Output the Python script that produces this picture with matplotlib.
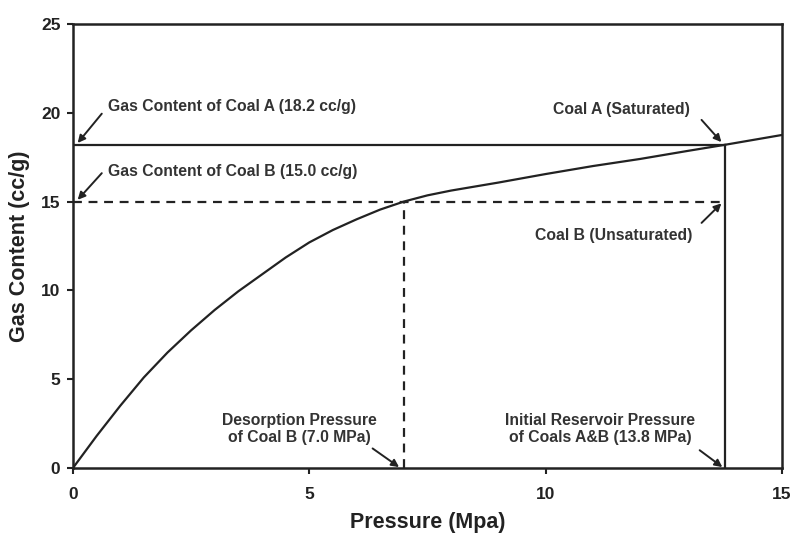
import matplotlib.pyplot as plt

plt.rcParams["font.family"] = ["Liberation Sans", "DejaVu Sans"]
plt.rcParams["font.weight"] = "bold"

# Isotherm
pressure = [0, 0.5, 1, 1.5, 2, 2.5, 3, 3.5, 4, 4.5, 5, 5.5, 6, 6.5, 7,
            7.5, 8, 9, 10, 11, 12, 13, 13.8, 15]
gas_content = [0, 1.8, 3.5, 5.1, 6.5, 7.75, 8.9, 9.95, 10.9, 11.85, 12.7,
               13.4, 14.0, 14.55, 15.0, 15.35, 15.62, 16.07, 16.55, 17.0,
               17.4, 17.85, 18.2, 18.75]

coal_a_content = 18.2
coal_b_content = 15.0
desorption_p = 7.0
reservoir_p = 13.8

x_ticks = [0, 5, 10, 15]
y_ticks = [0, 5, 10, 15, 20, 25]

fig = plt.figure(figsize=(7.93, 5.33), dpi=100)
ax = fig.add_axes([0.092, 0.122, 0.894, 0.833])

ax.plot(pressure, gas_content, color="#222222", lw=1.6)

# Coal A: saturated
ax.plot([0, reservoir_p], [coal_a_content, coal_a_content], color="#222222", lw=1.6)
ax.plot([reservoir_p, reservoir_p], [0, coal_a_content], color="#222222", lw=1.6)

# Coal B: unsaturated
ax.plot([0, reservoir_p], [coal_b_content, coal_b_content], color="#222222",
        lw=1.6, ls=(0, (4, 3)))
ax.plot([desorption_p, desorption_p], [0, coal_b_content], color="#222222",
        lw=1.6, ls=(0, (4, 3)))

ax.set_xlim(0, 15)
ax.set_ylim(0, 25)
ax.set_xticks(x_ticks)
ax.set_yticks(y_ticks)
ax.tick_params(direction="out", length=4, width=1.5, labelsize=12.5, colors="#222222")
ax.tick_params(axis="x", pad=10)
ax.tick_params(axis="y", pad=5)
for lab in ax.get_xticklabels() + ax.get_yticklabels():
    lab.set_fontweight("bold")
for s in ax.spines.values():
    s.set_linewidth(1.8)
    s.set_color("#222222")

ax.set_xlabel("Pressure (Mpa)", fontsize=15.5, fontweight="bold", labelpad=7, color="#222222")
ax.set_ylabel("Gas Content (cc/g)", fontsize=15.5, fontweight="bold", labelpad=8, color="#222222")

arrow = dict(arrowstyle="-|>", color="#222222", lw=1.4, mutation_scale=11,
             shrinkA=0, shrinkB=0)
txt = dict(fontsize=11.3, fontweight="bold", color="#333333")

ax.annotate("", xy=(0.1, 18.3), xytext=(0.61, 19.95), arrowprops=arrow)
ax.text(0.74, 20.35, "Gas Content of Coal A (18.2 cc/g)", ha="left", va="center", **txt)

ax.annotate("", xy=(0.1, 15.1), xytext=(0.61, 16.6), arrowprops=arrow)
ax.text(0.74, 16.7, "Gas Content of Coal B (15.0 cc/g)", ha="left", va="center", **txt)

ax.annotate("", xy=(13.72, 18.35), xytext=(13.3, 19.6), arrowprops=arrow)
ax.text(13.05, 20.2, "Coal A (Saturated)", ha="right", va="center", **txt)

ax.annotate("", xy=(13.72, 14.9), xytext=(13.3, 13.8), arrowprops=arrow)
ax.text(13.1, 13.1, "Coal B (Unsaturated)", ha="right", va="center", **txt)

ax.annotate("", xy=(6.9, 0.05), xytext=(6.34, 1.1), arrowprops=arrow)
ax.text(4.8, 2.2, "Desorption Pressure\nof Coal B (7.0 MPa)", ha="center",
        va="center", linespacing=1.15, **txt)

ax.annotate("", xy=(13.74, 0.05), xytext=(13.26, 1.0), arrowprops=arrow)
ax.text(11.16, 2.2, "Initial Reservoir Pressure\nof Coals A&B (13.8 MPa)", ha="center",
        va="center", linespacing=1.15, **txt)

plt.savefig("out.png", dpi=100)
